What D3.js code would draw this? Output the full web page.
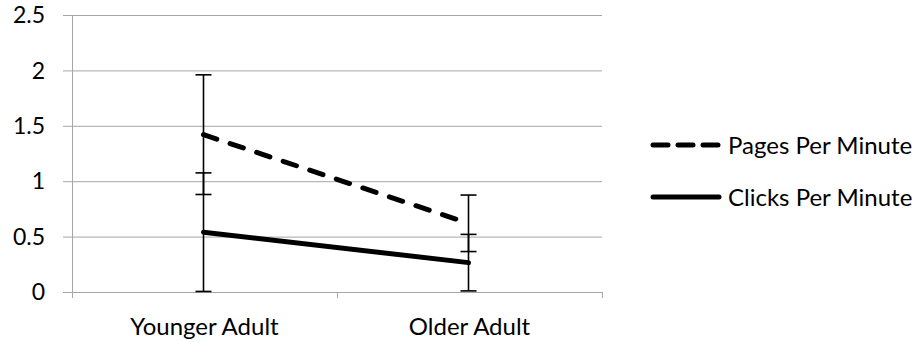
<!DOCTYPE html>
<html><head><meta charset="utf-8">
<script src="https://cdn.jsdelivr.net/npm/d3@7"></script>
<style>body{margin:0;background:#fff}svg{display:block}text{font-family:Lato,"Noto Sans",sans-serif;fill:#000}</style>
</head><body><svg id="c" width="920" height="342"></svg>
<script>
const categories = ["Younger Adult", "Older Adult"];
const seriesNames = ["Pages Per Minute", "Clicks Per Minute"];
const pagesValues = [1.42, 0.62];
const pagesErrors = [0.54, 0.255];
const clicksValues = [0.54, 0.265];
const clicksErrors = [0.535, 0.255];
const yTicks = [0, 0.5, 1, 1.5, 2, 2.5];

(function () {
const svg = d3.select("#c");
const pl = 72, pr = 602, pt = 15, pb = 292;
const fs = 24;
const x = d3.scaleBand().domain(categories).range([pl, pr]);
const y = d3.scaleLinear().domain([0, 2.5]).range([pb, pt]);
const grid = "#a6a6a6";

// gridlines
svg.append("g").selectAll("line").data(yTicks).join("line")
  .attr("x1", pl - 9).attr("x2", pr)
  .attr("y1", d => y(d) + 0.5).attr("y2", d => y(d) + 0.5)
  .attr("stroke", grid).attr("stroke-width", 1);
// y axis line
svg.append("line").attr("x1", pl + 0.5).attr("x2", pl + 0.5)
  .attr("y1", pt).attr("y2", pb + 6).attr("stroke", grid);
// x ticks
const xb = [pl + x.bandwidth(), pr];
svg.append("g").selectAll("line").data(xb).join("line")
  .attr("x1", d => d + 0.5).attr("x2", d => d + 0.5)
  .attr("y1", pb).attr("y2", pb + 6).attr("stroke", grid);
// y tick labels
svg.append("g").selectAll("text").data(yTicks).join("text")
  .attr("x", 45).attr("y", d => y(d)).attr("dy", "0.36em")
  .attr("text-anchor", "end").attr("font-size", fs - 1).text(d => d);
// x labels
svg.append("g").selectAll("text").data(categories).join("text")
  .attr("x", d => x(d) + x.bandwidth() / 2).attr("y", 335)
  .attr("text-anchor", "middle").attr("font-size", fs).text(d => d);

const series = [
  {name: seriesNames[0], vals: pagesValues, errs: pagesErrors, dash: "14,14", ldash: "15,10"},
  {name: seriesNames[1], vals: clicksValues, errs: clicksErrors, dash: null, ldash: null}
];
const cx = c => x(c) + x.bandwidth() / 2;

// error bars
series.forEach(s => {
  const g = svg.append("g");
  categories.forEach((c, i) => {
    const lo = Math.max(0, s.vals[i] - s.errs[i]), hi = s.vals[i] + s.errs[i];
    const X = cx(c) - 1;
    g.append("line").attr("x1", X).attr("x2", X).attr("y1", y(lo)).attr("y2", y(hi))
      .attr("stroke", "#000").attr("stroke-width", 1.6);
    [lo, hi].forEach(v => g.append("line").attr("x1", X - 8).attr("x2", X + 8)
      .attr("y1", y(v)).attr("y2", y(v)).attr("stroke", "#000").attr("stroke-width", 1.6));
  });
});

// lines
const line = d3.line().x((d, i) => cx(categories[i]) - 1).y(d => y(d));
series.forEach(s => {
  svg.append("path").attr("d", line(s.vals)).attr("fill", "none")
    .attr("stroke", "#000").attr("stroke-width", 5).attr("stroke-linecap", "round")
    .attr("stroke-dasharray", s.dash);
});

// legend
const lg = svg.append("g");
const legendY = [145, 197];
series.forEach((s, i) => {
  const ly = legendY[i];
  lg.append("line").attr("x1", 653).attr("x2", 719).attr("y1", ly).attr("y2", ly)
    .attr("stroke", "#000").attr("stroke-width", 5).attr("stroke-linecap", "round")
    .attr("stroke-dasharray", s.ldash);
  lg.append("text").attr("x", 728).attr("y", ly).attr("dy", "0.36em")
    .attr("font-size", fs).text(s.name);
});
})();
</script></body></html>
